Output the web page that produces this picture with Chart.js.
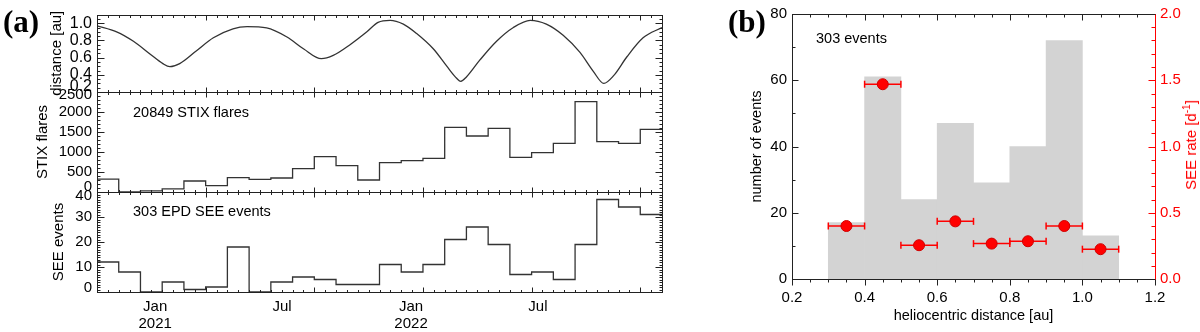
<!DOCTYPE html>
<html>
<head>
<meta charset="utf-8">
<script src="https://cdn.jsdelivr.net/npm/chart.js@4.4.1/dist/chart.umd.min.js"></script>
<style>
  body { margin: 0; background: #fff; }
  #wrap { position: relative; width: 1200px; height: 332px; overflow: hidden; font-family: "Liberation Sans", Arial, sans-serif; }
  canvas { position: absolute; top: 0; }
  .lbl { position: absolute; white-space: nowrap; line-height: 1; font-size: 14.5px; color: #000; }
  .panel { font-family: "Liberation Serif", serif; font-weight: bold; font-size: 31px; }
</style>
</head>
<body>
<div id="wrap">
  <canvas id="dist" width="680" height="332" style="left:0"></canvas>
  <canvas id="stix" width="680" height="332" style="left:0"></canvas>
  <canvas id="see" width="680" height="332" style="left:0"></canvas>
  <canvas id="hist" width="500" height="332" style="left:700px"></canvas>
  <div class="lbl panel" style="left:3px;top:6px">(a)</div>
  <div class="lbl panel" style="left:728px;top:6px">(b)</div>
  <div class="lbl" style="left:133px;top:105px">20849 STIX flares</div>
  <div class="lbl" style="left:133px;top:204px">303 EPD SEE events</div>
  <div class="lbl" style="left:816px;top:31px">303 events</div>
  <div class="lbl" style="left:1190px;top:145px;font-size:15px;color:red;transform:translate(-50%,-50%) rotate(-90deg)">SEE rate [d<sup style="font-size:10px">-1</sup>]</div>
</div>
<script>
// time axis: days since 2020-10-10, monthly-ish bins of 31 days
const binDays = 31;
const monthTickDays = [83, 264, 448, 629];
const monthTickLabels = [['Jan', '2021'], 'Jul', ['Jan', '2022'], 'Jul'];

// Solar Orbiter heliocentric distance [au]
const distDay = [0, 28, 52, 76, 94, 104, 118, 142, 166, 194, 214, 242, 271, 295, 320, 337, 361, 385, 401, 418,
  437, 456, 480, 499, 513, 519, 527, 546, 570, 594, 618, 641, 665, 689, 708, 723, 737, 756, 779, 806];
const distAu = [0.97, 0.90, 0.79, 0.64, 0.53, 0.495, 0.53, 0.68, 0.83, 0.935, 0.96, 0.946, 0.84, 0.70, 0.587, 0.625, 0.75, 0.90, 1.01, 1.034,
  0.99, 0.88, 0.70, 0.50, 0.36, 0.324, 0.375, 0.57, 0.79, 0.95, 1.034, 0.99, 0.86, 0.66, 0.44, 0.30, 0.39, 0.61, 0.83, 0.95];

// counts per bin
const stixCounts = [320, 0, 30, 80, 275, 160, 358, 317, 350, 583, 883, 658, 300, 733, 783, 842, 1617, 1400, 1592, 867,
  983, 1217, 2258, 1258, 1217, 1567];
const seeCounts = [12, 8, 0, 4, 1, 2, 18, 0, 4, 6, 5, 3, 3, 11, 8, 11, 21, 26, 19, 7, 8, 5, 19, 37, 34, 31];

// y tick labels of the three strips (label positions nudged at the crowded ends, as in the figure)
const distTicks = [0.2, 0.4, 0.6, 0.8, 1.0];
const distLabelAt = [0.262, 0.4, 0.6, 0.8, 1.0];
const stixTicks = [0, 500, 1000, 1500, 2000, 2500];
const stixLabelAt = [120, 500, 1000, 1500, 2000, 2420];
const seeTicks = [0, 10, 20, 30, 40];
const seeLabelAt = [1.5, 10, 20, 30, 38.5];

// panel (b)
const rBins = [0.35, 0.45, 0.55, 0.65, 0.75, 0.85, 0.95, 1.05];
const rEvents = [17, 61, 24, 47, 29, 40, 72, 13];
const seeRate = [0.40, 1.47, 0.255, 0.435, 0.267, 0.285, 0.40, 0.225];
const rHalfWidth = [0.05, 0.05, 0.05, 0.05, 0.05, 0.05, 0.05, 0.05];

const spanDays = stixCounts.length * binDays;

Chart.defaults.font.family = '"Liberation Sans", Arial, sans-serif';
Chart.defaults.color = '#000';

const steps = (a, b, d) => {
  const out = [];
  for (let v = a; v <= b + d / 1e6; v += d) out.push(+v.toFixed(6));
  return out;
};

// box round the plot area plus IDL-like tick marks (positive length = inwards)
const frame = {
  id: 'frame',
  afterDatasetsDraw(chart, args, opts) {
    const { ctx, chartArea: a } = chart;
    const L = Math.round(a.left) + 0.5, R = Math.round(a.right) + 0.5,
      T = Math.round(a.top) + 0.5, B = Math.round(a.bottom) + 0.5;
    ctx.save();
    ctx.lineWidth = 1;
    (opts.marks || []).forEach(m => {
      const s = chart.scales[m.axis];
      ctx.strokeStyle = m.color || '#222';
      [[m.minor, m.minorLen], [m.major, m.majorLen]].forEach(([vals, len]) => {
        vals.forEach(v => {
          const p = Math.round(s.getPixelForValue(v)) + 0.5;
          ctx.beginPath();
          if (m.side === 'top') { ctx.moveTo(p, T); ctx.lineTo(p, T + len); }
          if (m.side === 'bottom') { ctx.moveTo(p, B); ctx.lineTo(p, B - len); }
          if (m.side === 'left') { ctx.moveTo(L, p); ctx.lineTo(L + len, p); }
          if (m.side === 'right') { ctx.moveTo(R, p); ctx.lineTo(R - len, p); }
          ctx.stroke();
        });
      });
    });
    ctx.strokeStyle = '#222';
    ctx.strokeRect(L, T, R - L, B - T);
    if (opts.rightColor) {
      ctx.strokeStyle = opts.rightColor;
      ctx.beginPath(); ctx.moveTo(R, T); ctx.lineTo(R, B); ctx.stroke();
    }
    ctx.restore();
  }
};

const quiet = { legend: { display: false }, tooltip: { enabled: false } };
const noGrid = { display: false, drawTicks: false };

const timeMarks = ['top', 'bottom'].map(side => ({
  axis: 'x', side, minor: steps(0, spanDays, 15.5), major: steps(0, spanDays, 155), minorLen: 2.5, majorLen: 5
}));

function strip(id, top, bottom, yAxis, dataset, showX) {
  const x = {
    type: 'linear', min: 0, max: spanDays, display: showX,
    grid: noGrid, border: { display: false },
    afterBuildTicks: ax => { ax.ticks = monthTickDays.map(v => ({ value: v })); },
    ticks: { autoSkip: false, maxRotation: 0, padding: 7, font: { size: 15, lineHeight: 1.1 },
      callback: (v, i) => monthTickLabels[i] }
  };
  if (showX) x.afterFit = ax => { ax.height = 332 - bottom; };
  return new Chart(document.getElementById(id), {
    type: 'line',
    data: { datasets: [dataset] },
    options: {
      responsive: false, animation: false, events: [],
      layout: { padding: { top: top, bottom: showX ? 0 : 332 - bottom, left: 0, right: 18 } },
      scales: {
        x: x,
        y: {
          min: yAxis.min, max: yAxis.max,
          grid: noGrid, border: { display: false },
          afterBuildTicks: ax => { ax.ticks = yAxis.labelAt.map(v => ({ value: v })); },
          afterFit: ax => { ax.width = 97; },
          ticks: { autoSkip: false, padding: 5, font: { size: yAxis.fontSize },
            callback: (v, i) => yAxis.fmt(yAxis.ticks[i]) },
          title: { display: true, text: yAxis.title, font: { size: 15 }, padding: { top: yAxis.titleX - 9, bottom: 0 } }
        }
      },
      plugins: {
        ...quiet,
        frame: {
          marks: timeMarks.concat(['left', 'right'].map(side => ({
            axis: 'y', side, minor: yAxis.minor, major: yAxis.ticks, minorLen: 3, majorLen: 7
          })))
        }
      }
    },
    plugins: [frame]
  });
}

const stepLine = counts => counts.map((c, i) => ({ x: i * binDays, y: c }))
  .concat([{ x: counts.length * binDays, y: counts[counts.length - 1] }]);

strip('dist', 10, 92, {
  min: 0.2, max: 1.1, ticks: distTicks, labelAt: distLabelAt, minor: steps(0.2, 1.1, 0.05),
  fmt: v => v.toFixed(1), fontSize: 16, title: 'distance [au]', titleX: 57
}, {
  data: distDay.map((d, i) => ({ x: d, y: distAu[i] })),
  borderColor: '#333', borderWidth: 1.3, pointRadius: 0, cubicInterpolationMode: 'monotone', fill: false
}, false);

strip('stix', 92, 192, {
  min: 0, max: 2500, ticks: stixTicks, labelAt: stixLabelAt, minor: steps(0, 2500, 100),
  fmt: v => String(v), fontSize: 15, title: 'STIX flares', titleX: 43
}, {
  data: stepLine(stixCounts), stepped: true,
  borderColor: '#333', borderWidth: 1.3, pointRadius: 0, fill: false
}, false);

strip('see', 192, 292, {
  min: 0, max: 40, ticks: seeTicks, labelAt: seeLabelAt, minor: steps(0, 40, 1),
  fmt: v => String(v), fontSize: 15, title: 'SEE events', titleX: 59
}, {
  data: stepLine(seeCounts), stepped: true,
  borderColor: '#333', borderWidth: 1.3, pointRadius: 0, fill: false
}, true);

// panel (b)
const histSets = [{
  type: 'bar', order: 3, yAxisID: 'y',
  data: rBins.map((r, i) => ({ x: r, y: rEvents[i] })),
  backgroundColor: '#d3d3d3', borderWidth: 0, barPercentage: 1, categoryPercentage: 1
}];
rBins.forEach((r, i) => histSets.push({
  type: 'line', order: 2, yAxisID: 'yr',
  data: [{ x: r - rHalfWidth[i], y: seeRate[i] }, { x: r + rHalfWidth[i], y: seeRate[i] }],
  borderColor: 'red', borderWidth: 1.5, pointStyle: 'line', pointRotation: 90,
  pointRadius: 3.5, pointBorderColor: 'red', pointBorderWidth: 1.5
}));
histSets.push({
  type: 'scatter', order: 1, yAxisID: 'yr',
  data: rBins.map((r, i) => ({ x: r, y: seeRate[i] })),
  backgroundColor: 'red', borderColor: '#d00000', borderWidth: 1, pointRadius: 5.5
});

new Chart(document.getElementById('hist'), {
  type: 'bar',
  data: { datasets: histSets },
  options: {
    responsive: false, animation: false, events: [],
    layout: { padding: { top: 12, bottom: 0, left: 0, right: 0 } },
    scales: {
      x: {
        type: 'linear', offset: false, min: 0.2, max: 1.2,
        grid: noGrid, border: { display: false },
        afterBuildTicks: ax => { ax.ticks = [0.2, 0.4, 0.6, 0.8, 1.0, 1.2].map(v => ({ value: v })); },
        afterFit: ax => { ax.height = 53; },
        ticks: { autoSkip: false, maxRotation: 0, padding: 10, font: { size: 15 }, callback: v => v.toFixed(1) },
        title: { display: true, text: 'heliocentric distance [au]', font: { size: 14.5 }, padding: { top: 0, bottom: 7 } }
      },
      y: {
        position: 'left', min: 0, max: 80,
        grid: noGrid, border: { display: false },
        afterBuildTicks: ax => { ax.ticks = [0, 20, 40, 60, 80].map(v => ({ value: v })); },
        afterFit: ax => { ax.width = 92; },
        ticks: { autoSkip: false, padding: 5, font: { size: 15 } },
        title: { display: true, text: 'number of events', font: { size: 14.5 }, padding: { top: 48, bottom: 0 } }
      },
      yr: {
        position: 'right', min: 0, max: 2,
        grid: noGrid, border: { display: false },
        afterBuildTicks: ax => { ax.ticks = [0, 0.5, 1.0, 1.5, 2.0].map(v => ({ value: v })); },
        afterFit: ax => { ax.width = 45; },
        ticks: { autoSkip: false, padding: 5, color: 'red', font: { size: 15 }, callback: v => v.toFixed(1) }
      }
    },
    plugins: {
      ...quiet,
      frame: {
        rightColor: 'red',
        marks: [
          { axis: 'x', side: 'bottom', minor: steps(0.2, 1.2, 0.05), major: steps(0.2, 1.2, 0.2), minorLen: -3, majorLen: -6 },
          { axis: 'x', side: 'top', minor: steps(0.2, 1.2, 0.05), major: steps(0.2, 1.2, 0.2), minorLen: 3, majorLen: 6 },
          { axis: 'y', side: 'left', minor: steps(0, 80, 10), major: steps(0, 80, 20), minorLen: 3, majorLen: 6 },
          { axis: 'yr', side: 'right', color: 'red', minor: steps(0, 2, 0.1), major: steps(0, 2, 0.5), minorLen: 4, majorLen: 7 }
        ]
      }
    }
  },
  plugins: [frame]
});
</script>
</body>
</html>
